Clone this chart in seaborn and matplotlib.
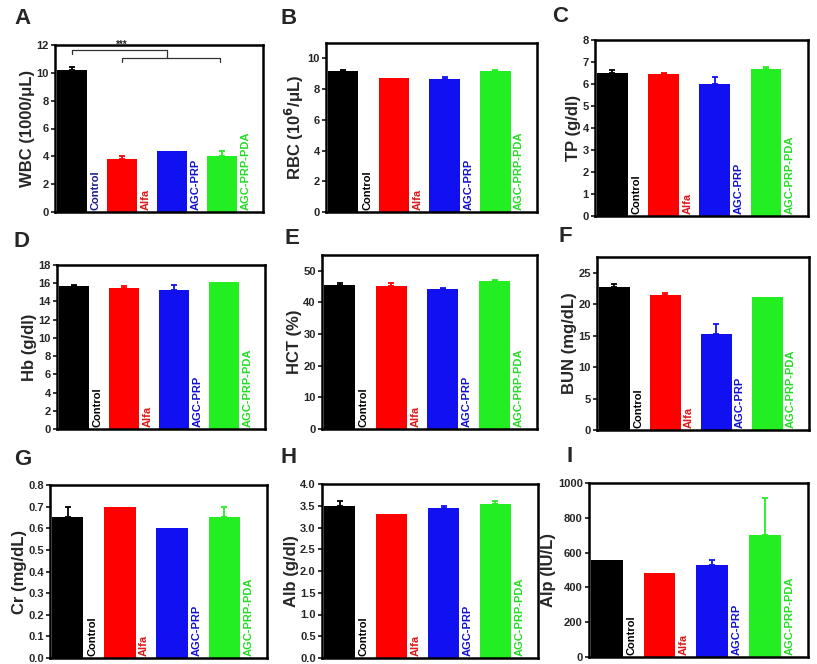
import numpy as np
import pandas as pd
import matplotlib
matplotlib.use("Agg")
import matplotlib.pyplot as plt
import seaborn as sns

sns.set_theme(style="white")
plt.rcParams['font.family'] = ['Liberation Sans', 'DejaVu Sans']
plt.rcParams['font.weight'] = 'bold'
plt.rcParams['mathtext.default'] = 'bf'

categories = ["Control", "Alfa", "AGC-PRP", "AGC-PRP-PDA"]
bar_colors = ["#000000", "#FF0000", "#1010F0", "#22EE22"]
label_colors = ["#000000", "#E01818", "#1010D0", "#22DD22"]

wbc = [10.2, 3.8, 4.4, 4.05]
wbc_err = [0.25, 0.25, 0.0, 0.35]
rbc = [9.2, 8.75, 8.65, 9.2]
rbc_err = [0.07, 0.0, 0.15, 0.05]
tp = [6.5, 6.45, 6.0, 6.7]
tp_err = [0.12, 0.05, 0.3, 0.08]
hb = [15.75, 15.45, 15.3, 16.1]
hb_err = [0.1, 0.3, 0.55, 0.0]
hct = [45.6, 45.1, 44.4, 46.9]
hct_err = [0.4, 1.0, 0.2, 0.3]
bun = [22.8, 21.4, 15.3, 21.2]
bun_err = [0.35, 0.4, 1.6, 0.0]
cr = [0.65, 0.70, 0.60, 0.65]
cr_err = [0.05, 0.0, 0.0, 0.05]
alb = [3.5, 3.3, 3.45, 3.55]
alb_err = [0.1, 0.0, 0.05, 0.05]
alp = [560, 485, 530, 700]
alp_err = [0, 0, 27, 215]

W, H = 817, 664
fig = plt.figure(figsize=(W / 100, H / 100), dpi=100)

def px_axes(x0, x1, ytop, ybot):
    return fig.add_axes([x0 / W, 1 - ybot / H, (x1 - x0) / W, (ybot - ytop) / H])

panels = [
    dict(letter="A", lx=14, ly=8, box=(55, 263, 45, 212), vals=wbc, err=wbc_err,
         ylabel="WBC (1000/μL)", ylim=12, ticks=np.arange(0, 13, 2), fmt="{:.0f}"),
    dict(letter="B", lx=281, ly=8, box=(326, 537, 43, 212), vals=rbc, err=rbc_err,
         ylabel=r"RBC (10$^{6}$/μL)", ylim=11, ticks=np.arange(0, 11, 2), fmt="{:.0f}"),
    dict(letter="C", lx=552, ly=6, box=(595, 808, 40, 216), vals=tp, err=tp_err,
         ylabel="TP (g/dl)", ylim=8, ticks=np.arange(0, 9, 1), fmt="{:.0f}"),
    dict(letter="D", lx=14, ly=231, box=(57, 265, 265, 429), vals=hb, err=hb_err,
         ylabel="Hb (g/dl)", ylim=18, ticks=np.arange(0, 19, 2), fmt="{:.0f}"),
    dict(letter="E", lx=284, ly=228, box=(322, 537, 255, 429), vals=hct, err=hct_err,
         ylabel="HCT (%)", ylim=55, ticks=np.arange(0, 51, 10), fmt="{:.0f}"),
    dict(letter="F", lx=559, ly=226, box=(597, 809, 257, 430), vals=bun, err=bun_err,
         ylabel="BUN (mg/dL)", ylim=27.5, ticks=np.arange(0, 26, 5), fmt="{:.0f}"),
    dict(letter="G", lx=14, ly=449, box=(50, 267, 485, 658), vals=cr, err=cr_err,
         ylabel="Cr (mg/dL)", ylim=0.8, ticks=np.arange(0, 0.81, 0.1), fmt="{:.1f}"),
    dict(letter="H", lx=281, ly=447, box=(322, 538, 484, 658), vals=alb, err=alb_err,
         ylabel="Alb (g/dl)", ylim=4.0, ticks=np.arange(0, 4.01, 0.5), fmt="{:.1f}"),
    dict(letter="I", lx=567, ly=446, box=(589, 808, 483, 657), vals=alp, err=alp_err,
         ylabel="Alp (IU/L)", ylim=1000, ticks=np.arange(0, 1001, 200), fmt="{:.0f}"),
]

for k, p in enumerate(panels):
    x0, x1, yt, yb = p["box"]
    ax = px_axes(x0, x1, yt, yb)
    df = pd.DataFrame({"group": categories, "value": p["vals"]})
    sns.barplot(data=df, x="group", y="value", hue="group", palette=bar_colors,
                order=categories, hue_order=categories, legend=False, width=0.6,
                saturation=1, edgecolor=None, linewidth=0, ax=ax)
    for i, (v, e) in enumerate(zip(p["vals"], p["err"])):
        if e > 0:
            ax.errorbar(i, v, yerr=[[0], [e]], fmt="none", ecolor=bar_colors[i],
                        elinewidth=1.3, capsize=2.5, capthick=1.3)
    ax.set_xlim(-0.34, 3.82)
    ax.set_ylim(0, p["ylim"])
    ax.set_yticks(p["ticks"])
    ax.set_yticklabels([p["fmt"].format(t) for t in p["ticks"]], fontsize=8, fontweight="bold")
    ax.set_xticks([])
    ax.set_xlabel("")
    ax.set_ylabel(p["ylabel"], fontsize=12, fontweight="bold", labelpad=1)
    ax.tick_params(axis="y", direction="out", length=3, width=1.3, pad=1.5, left=True)
    for s in ax.spines.values():
        s.set_linewidth(1.8)
        s.set_color("black")
    ax.grid(False)
    for i, c in enumerate(categories):
        col = label_colors[i]
        if k == 0 and i == 0:
            col = "#1A1A8C"
        ax.text(i + 0.37, 0.012, c, transform=ax.get_xaxis_transform(), rotation=90,
                ha="left", va="bottom", fontsize=8, fontweight="bold", color=col)
    fig.text(p["lx"] / W, 1 - p["ly"] / H, p["letter"], fontsize=16, fontweight="bold",
             ha="left", va="top")
    if k == 0:
        lw = 0.9
        # upper bracket: Control -> middle of lower bracket
        ax.plot([0, 0, 1.9, 1.9], [11.35, 11.65, 11.65, 11.1], color="#333333", lw=lw)
        # lower bracket: Alfa -> AGC-PRP-PDA
        ax.plot([1.0, 1.0, 2.95, 2.95], [10.8, 11.1, 11.1, 10.8], color="#333333", lw=lw)
        ax.text(1.0, 11.62, "***", ha="center", va="bottom", fontsize=7, fontweight="bold")

fig.savefig("out.png", dpi=100)
